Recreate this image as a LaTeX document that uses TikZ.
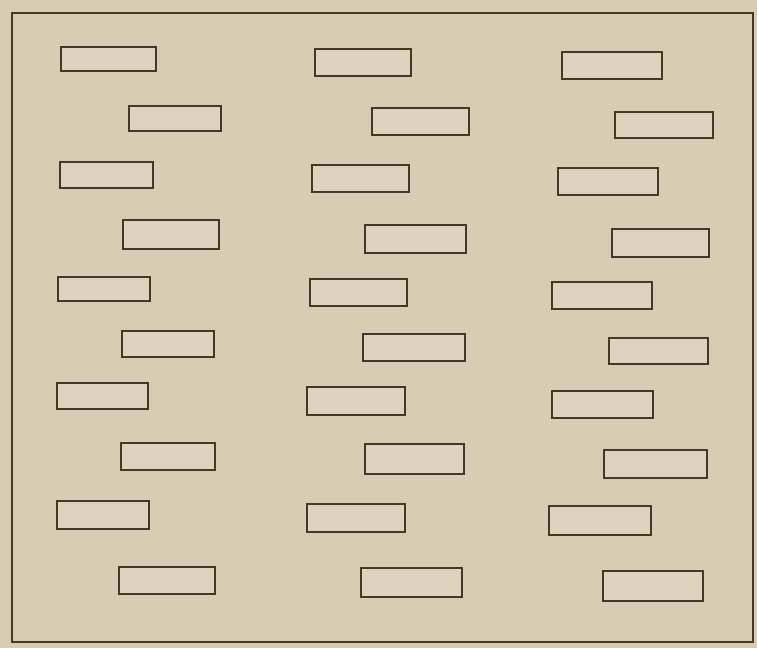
\documentclass[tikz,border=0pt]{standalone}
\usepackage{tikz}
\usepackage{xcolor}
\definecolor{paper}{RGB}{216,204,178}
\definecolor{ink}{RGB}{68,56,40}
\tikzset{
  frame/.style={draw=ink,line width=1.3pt},
  slot/.style={draw=ink,line width=1.2pt,fill=paper!85!white}
}

\begin{document}
\begin{tikzpicture}[x=0.02cm,y=-0.02cm]
% background and frame
\fill[paper] (0,0) rectangle (757,648);
\useasboundingbox (0,0) rectangle (757,648);
\draw[frame] (12,13) rectangle (753,642);

% left column
\draw[slot] (61,47) rectangle (156,71);
\draw[slot] (129,106) rectangle (221,131);
\draw[slot] (60,162) rectangle (153,188);
\draw[slot] (123,220) rectangle (219,249);
\draw[slot] (58,277) rectangle (150,301);
\draw[slot] (122,331) rectangle (214,357);
\draw[slot] (57,383) rectangle (148,409);
\draw[slot] (121,443) rectangle (215,470);
\draw[slot] (57,501) rectangle (149,529);
\draw[slot] (119,567) rectangle (215,594);

% middle column
\draw[slot] (315,49) rectangle (411,76);
\draw[slot] (372,108) rectangle (469,135);
\draw[slot] (312,165) rectangle (409,192);
\draw[slot] (365,225) rectangle (466,253);
\draw[slot] (310,279) rectangle (407,306);
\draw[slot] (363,334) rectangle (465,361);
\draw[slot] (307,387) rectangle (405,415);
\draw[slot] (365,444) rectangle (464,474);
\draw[slot] (307,504) rectangle (405,532);
\draw[slot] (361,568) rectangle (462,597);

% right column
\draw[slot] (562,52) rectangle (662,79);
\draw[slot] (615,112) rectangle (713,138);
\draw[slot] (558,168) rectangle (658,195);
\draw[slot] (612,229) rectangle (709,257);
\draw[slot] (552,282) rectangle (652,309);
\draw[slot] (609,338) rectangle (708,364);
\draw[slot] (552,391) rectangle (653,418);
\draw[slot] (604,450) rectangle (707,478);
\draw[slot] (549,506) rectangle (651,535);
\draw[slot] (603,571) rectangle (703,601);
\end{tikzpicture}
\end{document}
